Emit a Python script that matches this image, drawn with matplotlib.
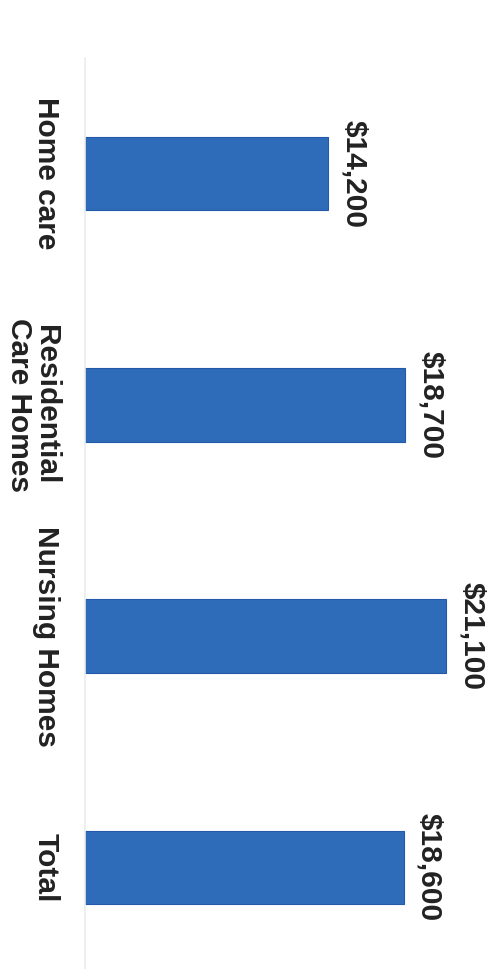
import matplotlib
matplotlib.use("Agg")
import matplotlib.pyplot as plt

categories = ["Home care", "Residential\nCare Homes", "Nursing Homes", "Total"]
values = [14200, 18700, 21100, 18600]
value_labels = ["$14,200", "$18,700", "$21,100", "$18,600"]

plt.rcParams["font.family"] = ["Liberation Sans", "DejaVu Sans"]

W, H = 497, 969
fig = plt.figure(figsize=(W / 100, H / 100), dpi=100)
fig.patch.set_facecolor("white")

left_px, right_px = 85, 479
top_px, bottom_px = 58, 969
ax = fig.add_axes([left_px / W, 1 - bottom_px / H,
                   (right_px - left_px) / W, (bottom_px - top_px) / H])

ypos = list(range(len(categories)))
ax.barh(ypos, values, height=0.318, color="#2E6CB9",
        edgecolor="#2458A8", linewidth=0.8)

ax.set_xlim(0, 23000)
ax.set_ylim(3.439, -0.5)

ax.set_yticks(ypos)
ax.set_yticklabels(categories, rotation=-90, fontsize=21.5,
                   fontweight="bold", color="#222222",
                   va="center", ha="right", multialignment="center",
                   linespacing=0.95)
ax.tick_params(axis="y", length=0, pad=18)
ax.set_xticks([])

for y, v, lab in zip(ypos, values, value_labels):
    ax.annotate(lab, xy=(v, y), xytext=(8.5, 0), textcoords="offset points",
                rotation=-90, ha="left", va="center", fontsize=21.5,
                fontweight="bold", color="#222222")

for side in ["top", "right", "bottom"]:
    ax.spines[side].set_visible(False)
ax.spines["left"].set_color("#ececec")
ax.spines["left"].set_linewidth(1.2)

fig.savefig("out.png", dpi=100, facecolor="white")
